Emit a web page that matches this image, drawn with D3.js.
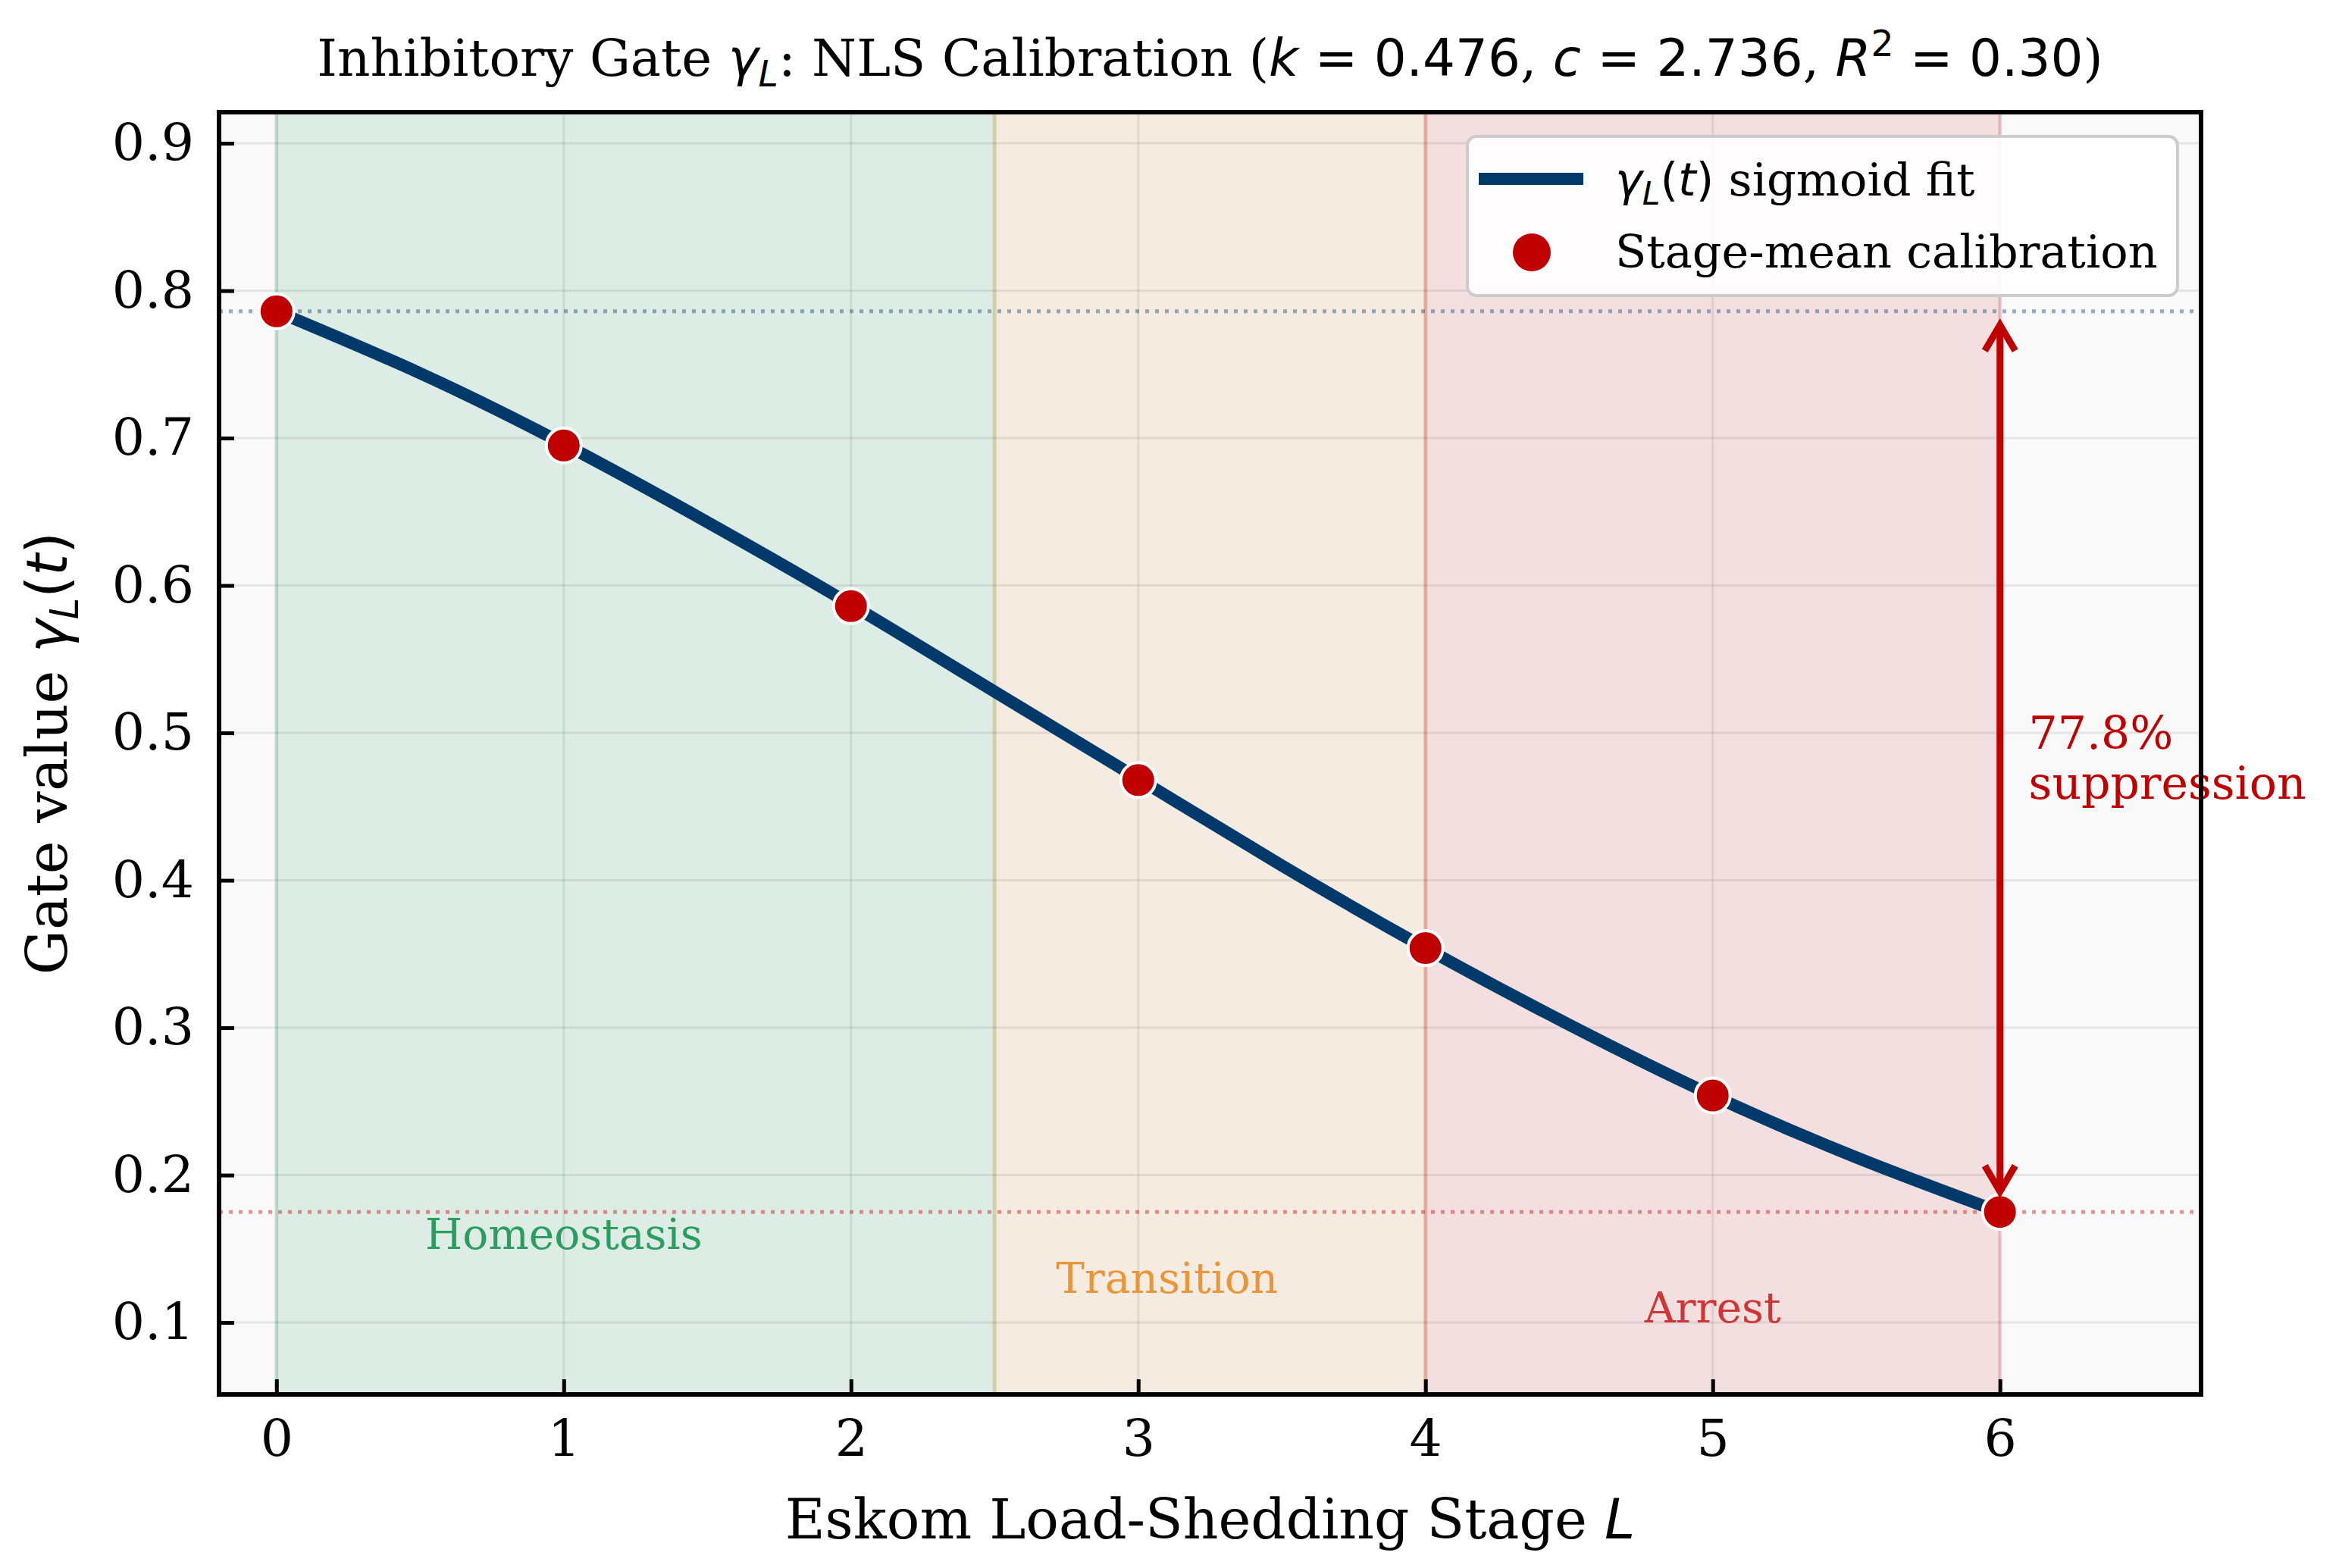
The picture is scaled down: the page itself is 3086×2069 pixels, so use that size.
<!DOCTYPE html>
<html>
<head>
<meta charset="utf-8">
<script src="https://cdn.jsdelivr.net/npm/d3@7"></script>
<style>
  body { margin: 0; background: #fff; }
  svg { display: block; }
</style>
</head>
<body>
<svg id="chart" width="3086" height="2069"></svg>
<script>
// stage means and fitted gate curve
const stages = [0, 1, 2, 3, 4, 5, 6]
const gateMeans = [0.786, 0.695, 0.586, 0.468, 0.354, 0.254, 0.175]
const fitStages = [0, 0.5, 1, 1.5, 2, 2.5, 3, 3.5, 4, 4.5, 5, 5.5, 6]
const fitValues = [0.786, 0.744, 0.696, 0.643, 0.587, 0.528, 0.469, 0.410, 0.354, 0.302, 0.254, 0.212, 0.175]

const regimeNames = ["Homeostasis", "Transition", "Arrest"]
const regimeStart = [0, 2.5, 4]
const regimeEnd = [2.5, 4, 6]
const regimeLabelX = [1.0, 3.1, 5.0]
const regimeLabelY = [0.15, 0.12, 0.10]
const regimeColors = ["#2a9d5f", "#e8963a", "#d03535"]

const xTicks = [0, 1, 2, 3, 4, 5, 6]
const yTicks = [0.1, 0.2, 0.3, 0.4, 0.5, 0.6, 0.7, 0.8, 0.9]

const gateTop = 0.786
const gateBottom = 0.175
const suppressionText = ["77.8%", "suppression"]

const serif = "'DejaVu Serif', serif"
const sans = "'DejaVu Sans', sans-serif"
const navy = "#003a6b"
const red = "#c00000"

const svg = d3.select("#chart")
const plotL = 289, plotR = 2904, plotT = 148, plotB = 1840

const x = d3.scaleLinear().domain([-0.2, 6.7]).range([plotL, plotR])
const y = d3.scaleLinear().domain([0.0512, 0.9211]).range([plotB, plotT])

// mixed serif / mathtext runs
function richText(sel, parts, size) {
    let shift = 0
    parts.forEach(p => {
        let t = sel.append("tspan").text(p.t)
        t.attr("font-family", p.f == "serif" ? serif : sans)
        if (p.i) t.attr("font-style", "italic")
        let want = p.sub ? size * 0.2 : p.sup ? -size * 0.38 : 0
        if (want != shift) t.attr("dy", want - shift)
        shift = want
        if (p.sub || p.sup) t.attr("font-size", size * 0.7)
    })
}

// axes background
svg.append("rect")
    .attr("x", plotL).attr("y", plotT)
    .attr("width", plotR - plotL).attr("height", plotB - plotT)
    .attr("fill", "#f9f9f9")

// regime spans
regimeNames.forEach((name, i) => {
    svg.append("rect")
        .attr("x", x(regimeStart[i])).attr("y", plotT)
        .attr("width", x(regimeEnd[i]) - x(regimeStart[i]))
        .attr("height", plotB - plotT)
        .attr("fill", regimeColors[i]).attr("fill-opacity", 0.13)
    ;[regimeStart[i], regimeEnd[i]].forEach(v => {
        svg.append("line")
            .attr("x1", x(v)).attr("x2", x(v)).attr("y1", plotT).attr("y2", plotB)
            .attr("stroke", regimeColors[i]).attr("stroke-opacity", 0.18)
            .attr("stroke-width", 5)
    })
})

// grid
let grid = svg.append("g").attr("stroke", "#000").attr("stroke-opacity", 0.08).attr("stroke-width", 3)
xTicks.forEach(v => {
    grid.append("line").attr("x1", x(v)).attr("x2", x(v)).attr("y1", plotT).attr("y2", plotB)
})
yTicks.forEach(v => {
    grid.append("line").attr("x1", plotL).attr("x2", plotR).attr("y1", y(v)).attr("y2", y(v))
})

// reference levels
svg.append("line")
    .attr("x1", plotL).attr("x2", plotR).attr("y1", y(gateTop)).attr("y2", y(gateTop))
    .attr("stroke", navy).attr("stroke-opacity", 0.4).attr("stroke-width", 5)
    .attr("stroke-dasharray", "5,8")
svg.append("line")
    .attr("x1", plotL).attr("x2", plotR).attr("y1", y(gateBottom)).attr("y2", y(gateBottom))
    .attr("stroke", red).attr("stroke-opacity", 0.4).attr("stroke-width", 5)
    .attr("stroke-dasharray", "5,8")

// regime labels
regimeNames.forEach((name, i) => {
    svg.append("text")
        .attr("x", x(regimeLabelX[i])).attr("y", y(regimeLabelY[i]))
        .attr("text-anchor", "middle")
        .attr("font-family", serif).attr("font-size", 56.5)
        .attr("fill", regimeColors[i])
        .text(name)
})

// fitted sigmoid
const fitLine = d3.line()
    .x((d, i) => x(fitStages[i]))
    .y(d => y(d))
    .curve(d3.curveNatural)

svg.append("path")
    .datum(fitValues)
    .attr("d", fitLine)
    .attr("fill", "none")
    .attr("stroke", navy)
    .attr("stroke-width", 16)

// stage means
svg.selectAll(".pt")
    .data(gateMeans)
    .join("circle")
    .attr("class", "pt")
    .attr("cx", (d, i) => x(stages[i]))
    .attr("cy", d => y(d))
    .attr("r", 23)
    .attr("fill", red)
    .attr("stroke", "#fff")
    .attr("stroke-width", 4)

// suppression arrow
const ax = x(6)
const yA = y(gateTop) + 18, yB = y(gateBottom) - 27
let arrow = svg.append("g").attr("stroke", red).attr("stroke-width", 9).attr("fill", "none")
arrow.append("line").attr("x1", ax).attr("x2", ax).attr("y1", yA + 3).attr("y2", yB - 3)
arrow.append("path").attr("d", `M${ax - 20},${yA + 34}L${ax},${yA}L${ax + 20},${yA + 34}`)
arrow.append("path").attr("d", `M${ax - 20},${yB - 34}L${ax},${yB}L${ax + 20},${yB - 34}`)

let ann = svg.append("text")
    .attr("x", x(6.1)).attr("y", y((gateTop + gateBottom) / 2))
    .attr("font-family", serif).attr("font-size", 60).attr("fill", red)
ann.append("tspan").attr("x", x(6.1)).attr("dy", -17).text(suppressionText[0])
ann.append("tspan").attr("x", x(6.1)).attr("dy", 66).text(suppressionText[1])

// axes
const xAxis = d3.axisBottom(x).tickValues(xTicks).tickSize(-20).tickPadding(33).tickFormat(d3.format("d"))
const yAxis = d3.axisLeft(y).tickValues(yTicks).tickSize(-20).tickPadding(33).tickFormat(d3.format(".1f"))

let gx = svg.append("g").attr("transform", `translate(0,${plotB})`).call(xAxis)
let gy = svg.append("g").attr("transform", `translate(${plotL},0)`).call(yAxis)
;[gx, gy].forEach(g => {
    g.select(".domain").remove()
    g.selectAll(".tick line").attr("stroke", "#000").attr("stroke-width", 5)
    g.selectAll(".tick text").attr("font-family", serif).attr("font-size", 68).attr("fill", "#000")
})

svg.append("rect")
    .attr("x", plotL).attr("y", plotT)
    .attr("width", plotR - plotL).attr("height", plotB - plotT)
    .attr("fill", "none").attr("stroke", "#000").attr("stroke-width", 6)

// legend
let lg = svg.append("g")
lg.append("rect")
    .attr("x", 1936).attr("y", 180).attr("width", 937).attr("height", 210).attr("rx", 12)
    .attr("fill", "#fff").attr("fill-opacity", 0.9)
    .attr("stroke", "#cccccc").attr("stroke-width", 4)
lg.append("line")
    .attr("x1", 1951).attr("x2", 2089).attr("y1", 236).attr("y2", 236)
    .attr("stroke", navy).attr("stroke-width", 16)
lg.append("circle").attr("cx", 2021).attr("cy", 333).attr("r", 25).attr("fill", red)
let l1 = lg.append("text").attr("x", 2131).attr("y", 258).attr("font-size", 60.5)
richText(l1, [{t: "γ", f: "sans", i: true}, {t: "L", f: "sans", i: true, sub: true},
    {t: "(", f: "sans"}, {t: "t", f: "sans", i: true}, {t: ")", f: "sans"},
    {t: " sigmoid fit", f: "serif"}], 60.5)
lg.append("text").attr("x", 2131).attr("y", 353)
    .attr("font-family", serif).attr("font-size", 60.5)
    .text("Stage-mean calibration")

// title and axis labels
let title = svg.append("text")
    .attr("x", (plotL + plotR) / 2).attr("y", 100)
    .attr("text-anchor", "middle").attr("font-size", 67.5)
richText(title, [{t: "Inhibitory Gate ", f: "serif"},
    {t: "γ", f: "sans", i: true}, {t: "L", f: "sans", i: true, sub: true},
    {t: ": NLS Calibration (", f: "serif"},
    {t: "k", f: "sans", i: true}, {t: " = 0.476", f: "sans"}, {t: ", ", f: "serif"},
    {t: "c", f: "sans", i: true}, {t: " = 2.736", f: "sans"}, {t: ", ", f: "serif"},
    {t: "R", f: "sans", i: true}, {t: "2", f: "sans", sup: true}, {t: " = 0.30", f: "sans"},
    {t: ")", f: "serif"}], 67.5)

let xl = svg.append("text")
    .attr("x", (plotL + plotR) / 2).attr("y", 2030)
    .attr("text-anchor", "middle").attr("font-size", 72.5)
richText(xl, [{t: "Eskom Load-Shedding Stage ", f: "serif"}, {t: "L", f: "sans", i: true}], 72.5)

let yl = svg.append("text")
    .attr("transform", `translate(88,${(plotT + plotB) / 2}) rotate(-90)`)
    .attr("text-anchor", "middle").attr("font-size", 74)
richText(yl, [{t: "Gate value ", f: "serif"}, {t: "γ", f: "sans", i: true},
    {t: "L", f: "sans", i: true, sub: true}, {t: "(", f: "sans"}, {t: "t", f: "sans", i: true},
    {t: ")", f: "sans"}], 74)
</script>
</body>
</html>
